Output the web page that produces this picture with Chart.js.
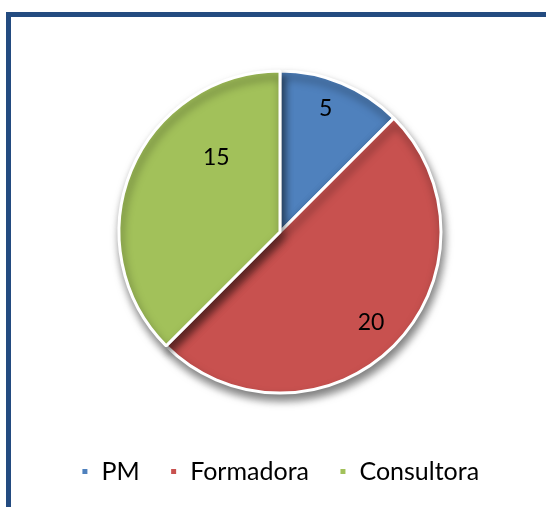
<!DOCTYPE html>
<html>
<head>
<meta charset="utf-8">
<script src="https://cdn.jsdelivr.net/npm/chart.js@4"></script>
<style>
  html, body { margin: 0; padding: 0; background: #fff; overflow: hidden; }
  #frame {
    position: absolute; left: 6px; top: 12px; width: 600px; height: 600px;
    border: 5px solid #234b80; box-sizing: border-box;
  }
  #wrap { position: absolute; left: 7px; top: 0; width: 546px; height: 507px; }
</style>
</head>
<body>
<div id="frame"></div>
<div id="wrap"><canvas id="pie"></canvas></div>
<script>
const categories = ["PM", "Formadora", "Consultora"];
const values = [5, 20, 15];
const colors = ["#4f81bd", "#c8514f", "#a2c15a"];

// where each value label sits: [fraction of the slice angle, fraction of radius]
const labelSpots = [[0.45, 0.82], [0.5, 0.8], [0.7, 0.61]];

const shadow = {
  id: "shadow",
  beforeDatasetsDraw(chart) {
    const ctx = chart.ctx;
    ctx.save();
    ctx.shadowColor = "rgba(0,0,0,0.5)";
    ctx.shadowBlur = 9;
    ctx.shadowOffsetX = 2;
    ctx.shadowOffsetY = 6;
  },
  afterDatasetsDraw(chart) {
    chart.ctx.restore();
  }
};

const valueLabels = {
  id: "valueLabels",
  afterDatasetsDraw(chart) {
    const ctx = chart.ctx;
    const meta = chart.getDatasetMeta(0);
    ctx.save();
    ctx.font = "23px Lato";
    ctx.fillStyle = "#000";
    ctx.textAlign = "center";
    ctx.textBaseline = "middle";
    meta.data.forEach((arc, i) => {
      const p = arc.getProps(["x", "y", "startAngle", "endAngle", "outerRadius"], true);
      const a = p.startAngle + (p.endAngle - p.startAngle) * labelSpots[i][0];
      const r = p.outerRadius * labelSpots[i][1];
      ctx.fillText(String(values[i]), p.x + Math.cos(a) * r, p.y + Math.sin(a) * r);
    });
    ctx.restore();
  }
};

new Chart(document.getElementById("pie"), {
  type: "pie",
  data: {
    labels: categories,
    datasets: [{
      data: values,
      backgroundColor: colors,
      borderColor: "#fff",
      borderWidth: 3,
      radius: 161
    }]
  },
  options: {
    responsive: true,
    maintainAspectRatio: false,
    animation: false,
    layout: { padding: { left: 0, right: 0, top: 35, bottom: 13 } },
    plugins: {
      tooltip: { enabled: false },
      legend: {
        position: "bottom",
        labels: {
          boxWidth: 8,
          boxHeight: 8,
          padding: 30,
          color: "#000",
          font: { family: "Lato", size: 25 }
        }
      }
    }
  },
  plugins: [shadow, valueLabels]
});
</script>
</body>
</html>
